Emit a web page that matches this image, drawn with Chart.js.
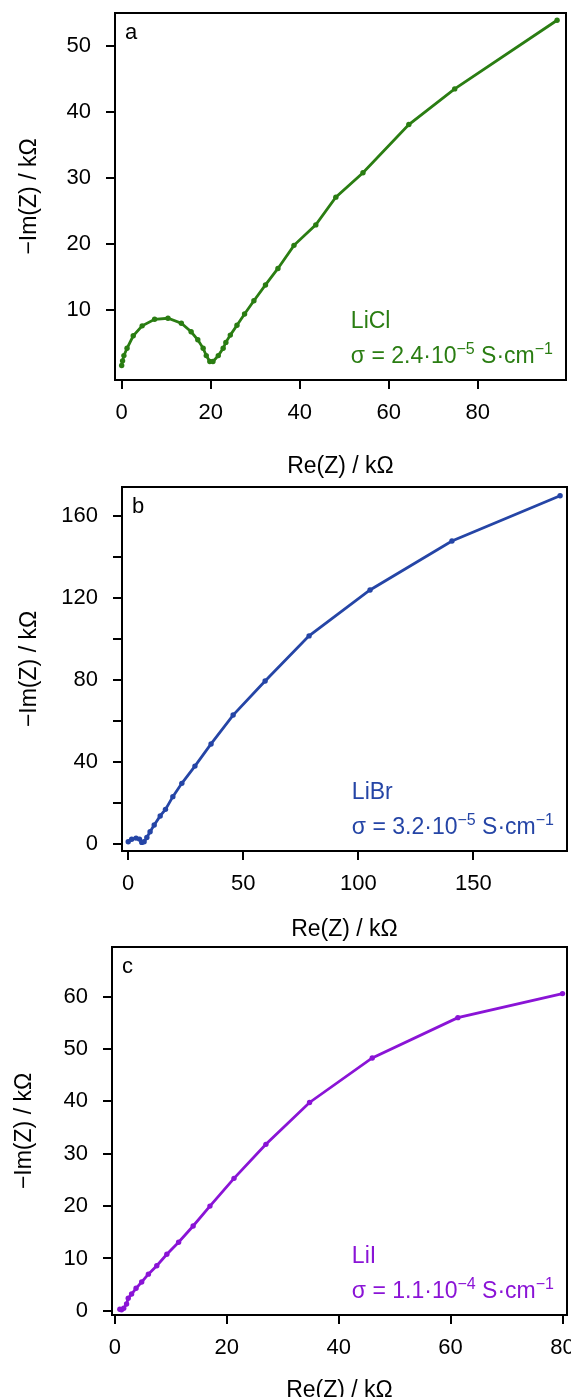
<!DOCTYPE html>
<html>
<head>
<meta charset="utf-8">
<script src="https://cdn.jsdelivr.net/npm/chart.js@4/dist/chart.umd.min.js"></script>
<style>
  body { margin: 0; background: #fff; overflow: hidden; }
  #wrap { position: relative; width: 571px; height: 1397px; overflow: hidden; }
  canvas { position: absolute; left: 0; }
</style>
</head>
<body>
<div id="wrap">
  <canvas id="chartA"></canvas>
  <canvas id="chartB"></canvas>
  <canvas id="chartC"></canvas>
</div>
<script>
// panel labels and annotation text
var panelLetters = ["a", "b", "c"];
var saltNames = ["LiCl", "LiBr", "LiI"];
var sigmaValues = ["2.4", "3.2", "1.1"];
var sigmaExps = ["\u22125", "\u22125", "\u22124"];
var xTitle = "Re(Z) / k\u03A9";
var yTitle = "\u2212Im(Z) / k\u03A9";

// LiCl impedance (kOhm)
var liclRe = [0.0, 0.2, 0.5, 1.2, 2.6, 4.6, 7.4, 10.4, 13.4, 15.6, 17.1, 18.3, 19.0, 19.8, 20.5, 21.7, 22.8, 23.4, 24.4, 25.9, 27.6, 29.7, 32.3, 35.1, 38.7, 43.6, 48.1, 54.2, 64.5, 74.8, 97.8];
var liclIm = [1.6, 2.3, 3.1, 4.2, 6.1, 7.6, 8.6, 8.75, 8.0, 6.7, 5.5, 4.2, 3.1, 2.2, 2.2, 3.1, 4.2, 5.1, 6.2, 7.7, 9.4, 11.4, 13.8, 16.3, 19.8, 22.9, 27.1, 30.8, 38.1, 43.5, 53.9];

// LiBr impedance (kOhm)
var librRe = [0, 1.5, 3.4, 4.9, 5.9, 6.9, 8.1, 9.5, 11.3, 13.9, 16.2, 19.4, 23.3, 29.0, 36.0, 45.6, 59.5, 78.6, 105.1, 140.7, 187.7];
var librIm = [1.1, 2.3, 2.9, 2.4, 0.8, 1.1, 3.2, 6.0, 9.3, 13.7, 16.9, 23.1, 29.6, 38.0, 48.8, 62.9, 79.5, 101.5, 123.9, 147.8, 169.8];

// LiI impedance (kOhm)
var liiRe = [0.9, 1.2, 1.6, 2.1, 2.4, 3.0, 3.8, 4.8, 6.0, 7.5, 9.3, 11.4, 14.0, 17.0, 21.3, 27.0, 34.8, 46.0, 61.3, 80.0];
var liiIm = [0.3, 0.2, 0.5, 1.3, 2.4, 3.2, 4.3, 5.5, 7.0, 8.6, 10.8, 13.1, 16.2, 20.0, 25.3, 31.8, 39.8, 48.3, 56.0, 60.6];

// tick positions
var liclXTicks = [0, 20, 40, 60, 80];
var liclYTicks = [10, 20, 30, 40, 50];
var librXTicks = [0, 50, 100, 150];
var librYTicks = [0, 20, 40, 60, 80, 100, 120, 140, 160];
var librYLabels = [0, 40, 80, 120, 160];
var liiXTicks = [0, 20, 40, 60, 80];
var liiYTicks = [0, 10, 20, 30, 40, 50, 60];

var fontFam = "'Liberation Sans', Arial, Helvetica, sans-serif";
var canvasH = 480;

function drawNote(chart, idx, color) {
  var ctx = chart.ctx;
  var ca = chart.chartArea;
  var size = 23;
  var sup = 16;
  var parts = [
    ["\u03C3 = " + sigmaValues[idx] + "\u00B710", false],
    [sigmaExps[idx], true],
    [" S\u00B7cm", false],
    ["\u22121", true]
  ];
  var w = 0;
  parts.forEach(function(p) {
    ctx.font = (p[1] ? sup : size) + "px " + fontFam;
    w += ctx.measureText(p[0]).width;
  });
  var x0 = ca.right - 13 - w;
  var yb = ca.bottom - 17;
  ctx.save();
  ctx.fillStyle = color;
  ctx.textBaseline = "alphabetic";
  ctx.textAlign = "left";
  var x = x0;
  parts.forEach(function(p) {
    ctx.font = (p[1] ? sup : size) + "px " + fontFam;
    ctx.fillText(p[0], x, p[1] ? yb - 9 : yb);
    x += ctx.measureText(p[0]).width;
  });
  ctx.font = size + "px " + fontFam;
  ctx.fillText(saltNames[idx], x0, yb - 35);
  ctx.restore();
}

function noPad(s) {
  s.paddingLeft = 0;
  s.paddingRight = 0;
  s.paddingTop = 0;
  s.paddingBottom = 0;
}

function makePanel(id, cfg) {
  var el = document.getElementById(id);
  el.width = 571;
  el.height = canvasH;
  el.style.top = cfg.top + "px";
  var pts = cfg.re.map(function(v, i) { return { x: v, y: cfg.im[i] }; });

  var boxPlugin = {
    id: "box" + id,
    afterDraw: function(chart) {
      var ctx = chart.ctx;
      var ca = chart.chartArea;
      ctx.save();
      ctx.strokeStyle = "#000";
      ctx.lineWidth = 2;
      ctx.strokeRect(ca.left, ca.top, ca.right - ca.left, ca.bottom - ca.top);
      ctx.fillStyle = "#000";
      ctx.font = "22px " + fontFam;
      ctx.textBaseline = "middle";
      ctx.fillText(panelLetters[cfg.idx], ca.left + 10, ca.top + 20);
      ctx.restore();
      drawNote(chart, cfg.idx, cfg.color);
    }
  };

  return new Chart(el, {
    type: "scatter",
    data: {
      datasets: [{
        data: pts,
        showLine: true,
        borderColor: cfg.color,
        backgroundColor: cfg.color,
        borderWidth: 2.8,
        pointRadius: 2.7,
        pointHoverRadius: 2.7,
        pointBorderWidth: 0
      }]
    },
    options: {
      responsive: false,
      animation: false,
      devicePixelRatio: 1,
      layout: { padding: { top: cfg.area.top, right: 571 - cfg.area.right, left: 0, bottom: 0 } },
      plugins: { legend: { display: false }, tooltip: { enabled: false } },
      scales: {
        x: {
          type: "linear",
          min: cfg.xMin,
          max: cfg.xMax,
          afterBuildTicks: function(s) { s.ticks = cfg.xTicks.map(function(v) { return { value: v }; }); },
          afterFit: function(s) { s.height = canvasH - cfg.area.bottom; noPad(s); },
          grid: { drawOnChartArea: false, tickLength: 9, color: "#000", lineWidth: 2 },
          border: { display: false },
          ticks: { color: "#000", font: { family: fontFam, size: 22 }, padding: 11, maxRotation: 0, autoSkip: false },
          title: { display: true, text: xTitle, color: "#000", font: { family: fontFam, size: 23 }, padding: { top: 0, bottom: cfg.xTitlePad } }
        },
        y: {
          type: "linear",
          min: cfg.yMin,
          max: cfg.yMax,
          afterBuildTicks: function(s) { s.ticks = cfg.yTicks.map(function(v) { return { value: v }; }); },
          afterFit: function(s) { s.width = cfg.area.left; noPad(s); },
          grid: { drawOnChartArea: false, tickLength: 9, color: "#000", lineWidth: 2 },
          border: { display: false },
          ticks: {
            color: "#000", font: { family: fontFam, size: 22 }, padding: 15, autoSkip: false,
            callback: function(v) { return cfg.yLabels.indexOf(v) >= 0 ? String(v) : ""; }
          },
          title: { display: true, text: yTitle, color: "#000", font: { family: fontFam, size: 23 }, padding: { top: cfg.yTitlePad, bottom: 0 } }
        }
      }
    },
    plugins: [boxPlugin]
  });
}

makePanel("chartA", {
  idx: 0, top: 0, color: "#2a7d12",
  re: liclRe, im: liclIm,
  area: { left: 115, right: 566, top: 13, bottom: 380 },
  xMin: -1.5, xMax: 99.8, yMin: -0.6, yMax: 55,
  xTicks: liclXTicks, yTicks: liclYTicks, yLabels: liclYTicks,
  xTitlePad: 0, yTitlePad: 16
});

makePanel("chartB", {
  idx: 1, top: 470, color: "#2545a6",
  re: librRe, im: librIm,
  area: { left: 122, right: 567, top: 17, bottom: 381 },
  xMin: -2.7, xMax: 190.7, yMin: -3.4, yMax: 174.1,
  xTicks: librXTicks, yTicks: librYTicks, yLabels: librYLabels,
  xTitlePad: 7, yTitlePad: 16
});

makePanel("chartC", {
  idx: 2, top: 930, color: "#8a14d6",
  re: liiRe, im: liiIm,
  area: { left: 112, right: 567, top: 17, bottom: 385 },
  xMin: -0.5, xMax: 80.8, yMin: -0.8, yMax: 69.5,
  xTicks: liiXTicks, yTicks: liiYTicks, yLabels: liiYTicks,
  xTitlePad: 6, yTitlePad: 11
});
</script>
</body>
</html>
